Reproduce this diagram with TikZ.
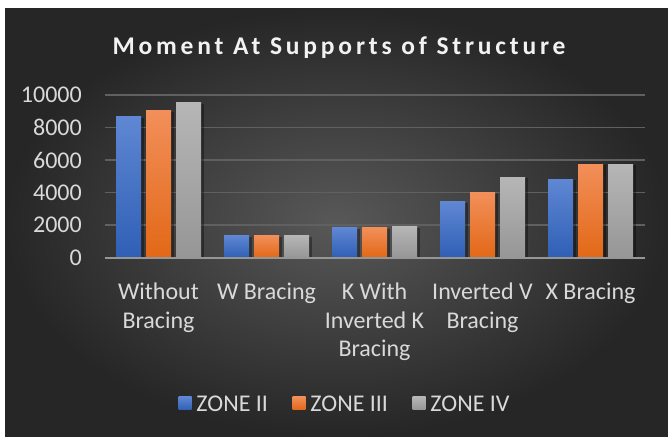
\documentclass[tikz,border=0pt]{standalone}
\usepackage{fontspec}
\setmainfont{Carlito}
\newfontfamily\titlefont[LetterSpace=15]{Carlito}
\usepackage{xcolor}
\usepackage{tikz}
\usetikzlibrary{positioning, shadows}
\definecolor{chartmid}{RGB}{88, 88, 88}
\definecolor{chartedge}{RGB}{38, 38, 38}
\definecolor{gridgray}{RGB}{96, 96, 96}
\definecolor{axisgray}{RGB}{150, 150, 150}
\definecolor{labelgray}{RGB}{217, 217, 217}
\definecolor{titlewhite}{RGB}{242, 242, 242}
\definecolor{twotop}{RGB}{95, 135, 211}
\definecolor{twobot}{RGB}{47, 95, 181}
\definecolor{threetop}{RGB}{242, 143, 90}
\definecolor{threebot}{RGB}{226, 104, 22}
\definecolor{fourtop}{RGB}{182, 182, 182}
\definecolor{fourbot}{RGB}{150, 150, 150}

\begin{document}
\begin{tikzpicture}[x=1pt, y=1pt,
    barshadow/.style={drop shadow={shadow xshift=2.5pt, shadow yshift=-1pt,
                                   opacity=0.35, fill=black}},
    zonetwo/.style={top color=twotop, bottom color=twobot},
    zonethree/.style={top color=threetop, bottom color=threebot},
    zonefour/.style={top color=fourtop, bottom color=fourbot},
    ticklabel/.style={anchor=east, inner sep=0pt, text=labelgray,
                      font=\fontsize{24}{29}\selectfont},
    catlabel/.style={anchor=north, inner sep=0pt, align=center, text=labelgray,
                     font=\fontsize{24}{28.5}\selectfont},
    keybox/.style={minimum size=13pt, inner sep=0pt},
    keytext/.style={inner sep=0pt, text=labelgray,
                    font=\fontsize{24}{29}\selectfont}]
    \useasboundingbox (0,0) rectangle (668,436);

    % Background panel with its soft radial light
    \fill[white] (0,0) rectangle (668,436);
    \shade[inner color=chartmid, outer color=chartedge] (5,0) rectangle (668,427);

    % Title
    \node[anchor=base, inner sep=0pt, text=titlewhite,
          font=\titlefont\bfseries\fontsize{25.5}{30}\selectfont]
        (Title) at (339, 381.7) {Moment At Supports of Structure};

    % Horizontal grid lines and the value labels
    \foreach \v [count=\k] in {0,2000,...,10000} {
        \draw[gridgray, line width=1.5pt] (104.5, {178.4+\v*0.01624}) -- (644.5, {178.4+\v*0.01624});
        \node[ticklabel] (Tick\k) at (82, {178.4+\v*0.01624}) {\v};
    }

    % Bars: one group of three zones per bracing type
    \foreach \i/\a/\b/\c in {1/8680/9045/9530, 2/1360/1360/1360, 3/1850/1850/1910,
                             4/3435/3985/4960, 5/4835/5750/5750} {
        \pgfmathsetmacro{\cx}{158.5+108*(\i-1)}
        \path[zonetwo, barshadow] (\cx-42.5, 178.4) rectangle (\cx-17.5, {178.4+\a*0.01624});
        \path[zonethree, barshadow] (\cx-12.5, 178.4) rectangle (\cx+12.5, {178.4+\b*0.01624});
        \path[zonefour, barshadow] (\cx+17.5, 178.4) rectangle (\cx+42.5, {178.4+\c*0.01624});
    }

    % Category axis
    \draw[axisgray, line width=2pt] (104.5, 178.4) -- (644.5, 178.4);
    \foreach \i/\name in {1/{Without\\Bracing}, 2/{W Bracing}, 3/{K With\\Inverted K\\Bracing},
                          4/{Inverted V\\Bracing}, 5/{X Bracing}} {
        \node[catlabel] (Cat\i) at ({158.5+108*(\i-1)}, 153) {\name};
    }

    % Legend
    \node[keybox, zonetwo] (KeyII) at (185, 32.7) {};
    \node[keytext, right=4.5pt of KeyII] (TextII) {ZONE II};
    \node[keybox, zonethree] (KeyIII) at (299, 32.7) {};
    \node[keytext, right=4.5pt of KeyIII] (TextIII) {ZONE III};
    \node[keybox, zonefour] (KeyIV) at (419, 32.7) {};
    \node[keytext, right=4.5pt of KeyIV] (TextIV) {ZONE IV};
\end{tikzpicture}
\end{document}
